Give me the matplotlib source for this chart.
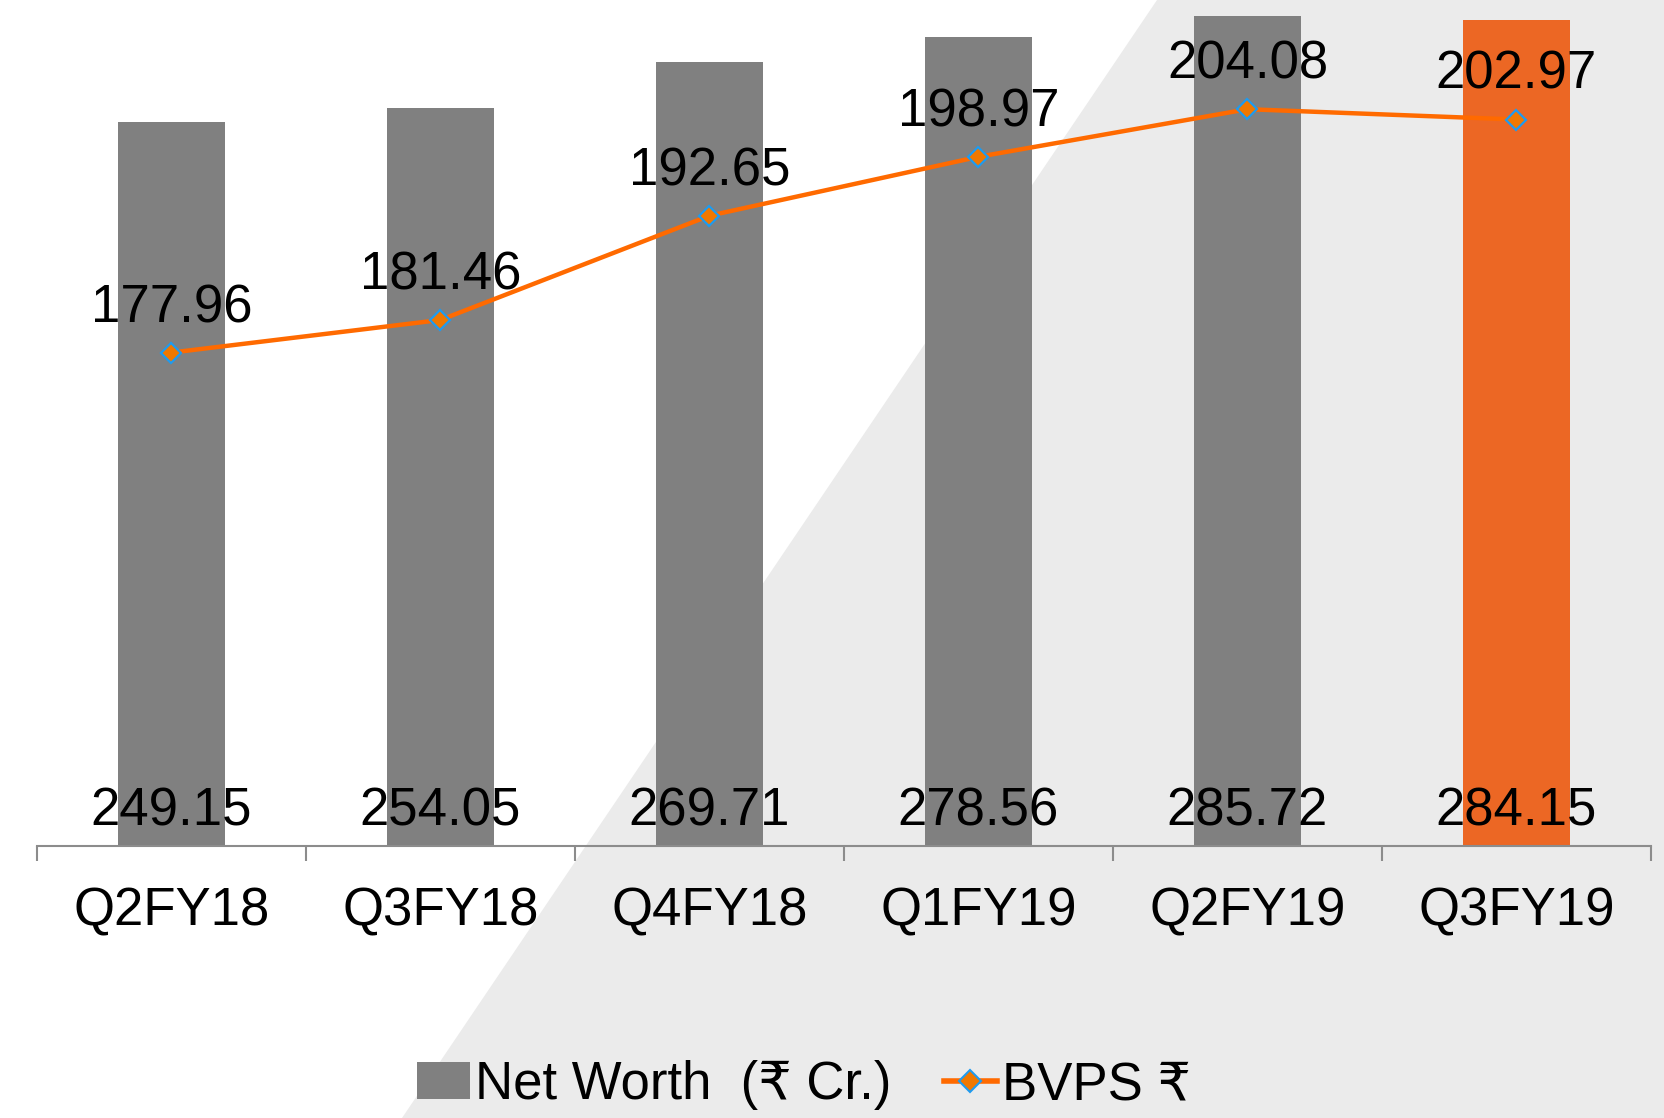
import numpy as np
import matplotlib.pyplot as plt
from matplotlib.patches import Polygon, Patch
from matplotlib.lines import Line2D

plt.rcParams['font.family'] = ['Liberation Sans', 'DejaVu Sans']

quarters = ["Q2FY18", "Q3FY18", "Q4FY18", "Q1FY19", "Q2FY19", "Q3FY19"]
net_worth = [249.15, 254.05, 269.71, 278.56, 285.72, 284.15]
bvps = [177.96, 181.46, 192.65, 198.97, 204.08, 202.97]

GRAY = "#808080"
ORANGE_BAR = "#EC6724"
ORANGE_LINE = "#FF6A00"
MARKER_FILL = "#F07800"
MARKER_EDGE = "#1E9BF0"
FS = 38

fig = plt.figure(figsize=(16.65, 11.18), dpi=100)

# diagonal light grey background shape, behind everything
bg = Polygon([(402 / 1665, 0), (1157 / 1665, 1), (1, 1), (1, 0)],
             closed=True, transform=fig.transFigure, facecolor="#EBEBEB",
             edgecolor="none", zorder=-10)
fig.patches.append(bg)

ax = fig.add_axes([37 / 1665, 1 - 846 / 1118, (1651 - 37) / 1665, 846 / 1118])
ax.patch.set_alpha(0)

x = np.arange(len(quarters))
colors = [GRAY] * (len(quarters) - 1) + [ORANGE_BAR]
ax.bar(x, net_worth, width=0.4, color=colors, zorder=2)
ax.set_xlim(-0.5, len(quarters) - 0.5)
ax.set_ylim(0, 291.2)

for xi, v in zip(x, net_worth):
    ax.annotate(f"{v:.2f}", (xi, 0), xytext=(0, 15), textcoords="offset points",
                ha="center", va="baseline", fontsize=FS, color="black", zorder=5)

for s in ["top", "right", "left"]:
    ax.spines[s].set_visible(False)
ax.spines["bottom"].set_color("#8C8C8C")
ax.spines["bottom"].set_linewidth(1.5)
ax.set_yticks([])
ax.set_xticks(x)
ax.set_xticklabels(quarters, fontsize=FS)
ax.tick_params(axis="x", which="major", length=0, pad=29)
ax.set_xticks(np.arange(-0.5, len(quarters)), minor=True)
ax.tick_params(axis="x", which="minor", length=11, width=1.5, color="#8C8C8C")

ax2 = ax.twinx()
ax2.plot(x, bvps, color=ORANGE_LINE, linewidth=3.2, marker="D", markersize=10,
         markerfacecolor=MARKER_FILL, markeredgecolor=MARKER_EDGE,
         markeredgewidth=1.6, zorder=3)
ax2.set_ylim(125, 215.8)
ax2.set_yticks([])
for s in ["top", "right", "left", "bottom"]:
    ax2.spines[s].set_visible(False)

for xi, v in zip(x, bvps):
    ax2.annotate(f"{v:.2f}", (xi, v), xytext=(0, 22), textcoords="offset points",
                 ha="center", va="baseline", fontsize=FS, color="black")

handles = [
    Patch(facecolor=GRAY, edgecolor="none"),
    Line2D([0], [0], color=ORANGE_LINE, linewidth=4, marker="D", markersize=11,
           markerfacecolor=MARKER_FILL, markeredgecolor=MARKER_EDGE, markeredgewidth=1.5),
]
fig.legend(handles, ["Net Worth  (₹ Cr.)", "BVPS ₹"], loc="center",
           bbox_to_anchor=(804 / 1665, 1 - 1085 / 1118), ncol=2, frameon=False,
           fontsize=FS, handlelength=1.0, handletextpad=0.1, columnspacing=1.0)

fig.savefig("out.png", dpi=100)
